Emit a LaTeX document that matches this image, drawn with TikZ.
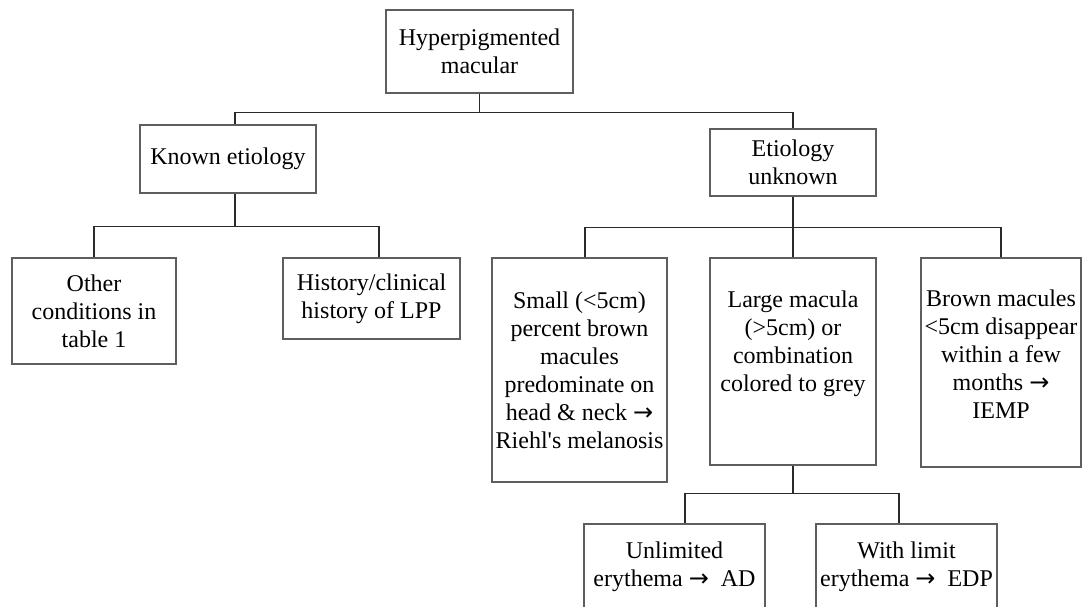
\documentclass[tikz,border=0pt]{standalone}
\usepackage{fontspec}
\setmainfont{Liberation Serif}[Ligatures=TeXOff]
\newfontfamily\arrowfont{DejaVu Sans}
\usetikzlibrary{positioning}
\definecolor{boxgrey}{HTML}{5E5E5E}
\definecolor{lngrey}{HTML}{2A2A2A}
\newcommand{\toarr}{{\arrowfont →}}

\begin{document}
\begin{tikzpicture}[x=1pt, y=-1pt,
    b/.style={draw=boxgrey, line width=1.5pt, fill=white, font=\fontsize{24}{28}\selectfont, align=center, inner sep=1.5pt},
    sz/.style 2 args={minimum width=#1pt, minimum height=#2pt},
    ln/.style={draw=lngrey, line width=1.4pt}]
  \fill[white] (0,0) rectangle (1083,607);
  \useasboundingbox (0,0) rectangle (1083,607);
  \clip (0,0) rectangle (1083,607);
  % top level
  \node[b, sz={187}{83}] (root) at (479.5,51.5) {Hyperpigmented\\macular};
  \node[b, sz={176}{68}] (known) at (228,159) {Known etiology};
  \node[b, sz={166}{67}] (unknown) at (793,162.5) {Etiology\\unknown};
  % known etiology
  \node[b, sz={164}{106}] (other) at (94,311) {Other\\conditions in\\table 1};
  \node[b, sz={177}{81}] (hist) at (371.5,298.5) {History/clinical\\history of LPP};
  % etiology unknown
  \node[b, sz={175}{224}] (small) at (579.5,370) {Small (<5cm)\\percent brown\\macules\\predominate on\\head \& neck \toarr\\Riehl's melanosis};
  \node[b, sz={166}{207}, text depth=41pt] (large) at (793,361.5) {Large macula\\(>5cm) or\\combination\\colored to grey};
  \node[b, sz={160}{209}, text depth=16pt] (brown) at (1001,362.5) {Brown macules\\<5cm disappear\\within a few\\months \toarr\\IEMP};
  % large macula
  \node[b, sz={181}{86}] (ad) at (674.5,567) {Unlimited\\erythema \toarr~ AD};
  \node[b, sz={181}{86}] (edp) at (906.5,567) {With limit\\erythema \toarr~ EDP};
  \draw[ln] (root.south) -- ++(0,18.5) -| ([xshift=7pt]known.north);
  \draw[ln] (root.south) -- ++(0,18.5) -| (unknown.north);
  \draw[ln] ([xshift=7pt]known.south) -- ++(0,33) -| (other.north);
  \draw[ln] ([xshift=7pt]known.south) -- ++(0,33) -| ([xshift=7.5pt]hist.north);
  \draw[ln] (unknown.south) -- ++(0,31) -| ([xshift=5.5pt]small.north);
  \draw[ln] (unknown.south) -- ++(0,31) -| (large.north);
  \draw[ln] (unknown.south) -- ++(0,31) -| (brown.north);
  \draw[ln] (large.south) -- ++(0,28) -| ([xshift=10.5pt]ad.north);
  \draw[ln] (large.south) -- ++(0,28) -| ([xshift=-7.5pt]edp.north);
\end{tikzpicture}
\end{document}
